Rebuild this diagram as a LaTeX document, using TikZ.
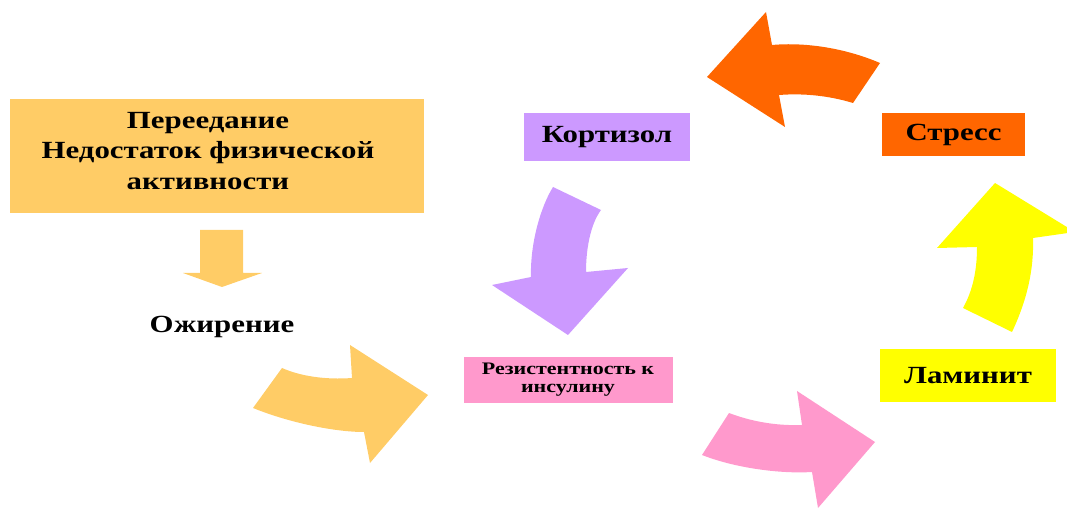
\documentclass[tikz,border=0pt]{standalone}
\usepackage{fontspec}
\setmainfont{Liberation Serif}[FakeStretch=1.25]
\usetikzlibrary{positioning}

\definecolor{peach}{HTML}{FFCC66}
\definecolor{lilac}{HTML}{CC99FF}
\definecolor{rose}{HTML}{FF99CC}
\definecolor{tangerine}{HTML}{FF6600}
\definecolor{lemon}{HTML}{FFFF00}

\begin{document}
\begin{tikzpicture}[
  x=0.75pt, y=-0.75pt,
  box/.style = {inner sep=0pt, align=center, font=\bfseries\fontsize{18.5}{23}\selectfont},
  smallbox/.style = {box, font=\bfseries\fontsize{13.2}{13.5}\selectfont}
  ]
	\useasboundingbox (0,0) rectangle (1067,509);

	\node[box, fill=peach, minimum width=310.5pt, minimum height=85.5pt] (over) at (217,156) {};
	\node[box] (overtext) at (208,151) {Переедание\\Недостаток физической\\активности};
	\node[box] (obese) at (222,327) {Ожирение};
	\node[box, fill=lilac, minimum width=124.5pt, minimum height=36pt] (cortisol) at (607,137) {Кортизол};
	\node[smallbox, fill=rose, minimum width=156.75pt, minimum height=34.5pt] (resist) at (568,380) {Резистентность к\\инсулину};
	\node[box, fill=tangerine, minimum width=107.25pt, minimum height=32.25pt] (stress) at (953.5,134.5) {Стресс};
	\node[box, fill=lemon, minimum width=132pt, minimum height=39.75pt] (laminit) at (968,375.5) {Ламинит};

	% down arrow
	\fill[peach] (200,230) -- (243,230) -- (243,273) -- (262,273) -- (222,287) -- (183,273) -- (200,273) -- cycle;

	% curved arrows
	\fill[peach] (282,368) .. controls (300,376) and (325,380) .. (352,378) -- (350,345) -- (428,395) -- (370,463) -- (364,432) .. controls (335,432) and (290,423) .. (253,408) -- cycle;
	\fill[rose] (729,413) .. controls (750,421) and (775,426) .. (802,425) -- (797,391) -- (875,442) -- (818,508) -- (812,472) .. controls (780,474) and (735,468) .. (702,455) -- cycle;
	\fill[lemon] (995,183) -- (1075,232) -- (1033,238) .. controls (1034,270) and (1027,300) .. (1012,332) -- (963,308) .. controls (973,290) and (977,270) .. (977,247) -- (937,248) -- cycle;
	\fill[tangerine] (707,77) -- (766,12) -- (772,45) .. controls (805,42) and (845,48) .. (880,63) -- (853,103) .. controls (830,96) and (805,93) .. (779,95) -- (785,127) -- cycle;
	\fill[lilac] (553,187) -- (601,210) .. controls (590,225) and (586,250) .. (586,272) -- (628,268) -- (568,335) -- (492,285) -- (531,277) .. controls (530,245) and (540,208) .. cycle;

\end{tikzpicture}
\end{document}
